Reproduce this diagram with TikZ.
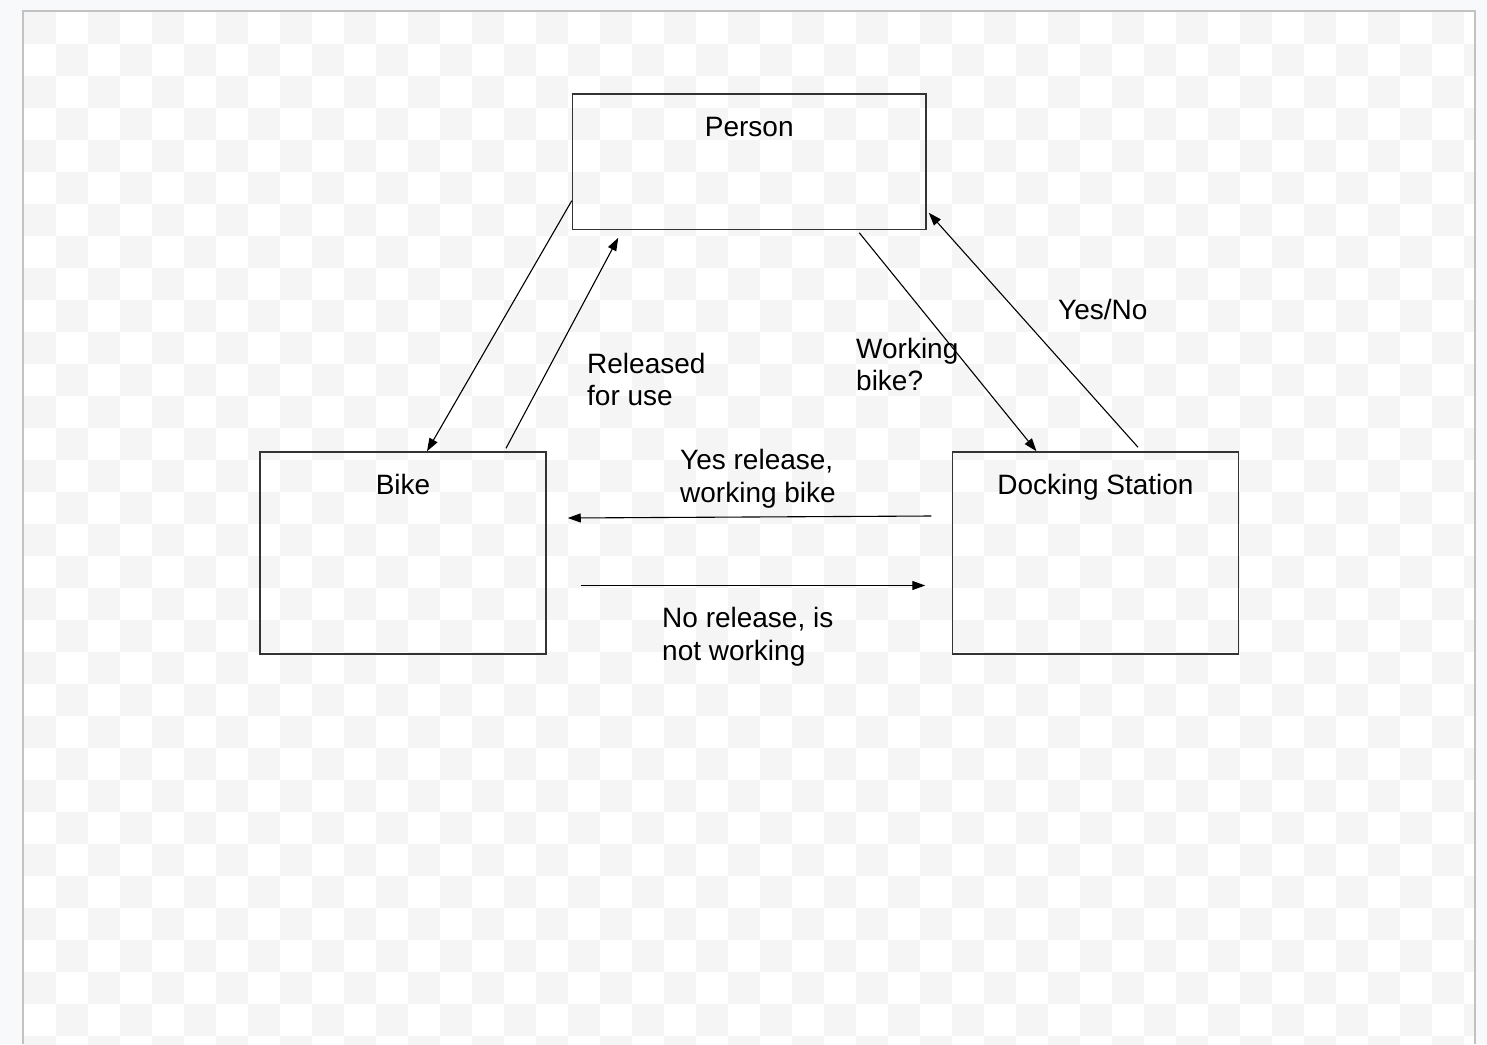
\documentclass[tikz,border=0pt]{standalone}
\usepackage{fontspec}
\setmainfont{Liberation Sans}
\usetikzlibrary{arrows.meta}

\definecolor{pagegray}{HTML}{F8F9FA}
\definecolor{checkgray}{HTML}{F5F5F5}
\definecolor{framegray}{HTML}{C2C2C2}
\definecolor{boxline}{HTML}{333333}

\tikzset{
    box/.style={draw=boxline, line width=1.5pt, inner sep=0pt, minimum width=286pt, minimum height=202pt},
    flow/.style={draw=black, line width=1.1pt, -{Triangle[length=13pt,width=9pt]}},
    title/.style={font=\fontsize{28}{32.5}\selectfont, inner sep=0pt, anchor=base},
    lbl/.style={font=\fontsize{28}{32.5}\selectfont, inner sep=0pt, align=left, anchor=base west}
}

\begin{document}
\begin{tikzpicture}[x=1pt,y=-1pt]
        \useasboundingbox (0,0) rectangle (1487,1044);

        % Page and checkered canvas
        \fill[pagegray] (0,0) rectangle (1487,1044);
        \fill[white] (24,12) rectangle (1474,1044);
        \begin{scope}
            \clip (24,12) rectangle (1474,1044);
            \foreach \i in {0,2,...,44} {
                \foreach \j in {0,2,...,32} {
                    \fill[checkgray] (24+32*\i,12+32*\j) rectangle ++(32,32);
                }
            }
            \foreach \i in {1,3,...,45} {
                \foreach \j in {1,3,...,31} {
                    \fill[checkgray] (24+32*\i,12+32*\j) rectangle ++(32,32);
                }
            }
        \end{scope}
        \draw[framegray, line width=2pt] (23,1044) -- (23,11) -- (1475,11) -- (1475,1044);

        % Draw the boxes
        \node[box, minimum width=353.5pt, minimum height=135.5pt] (person) at (749.25,161.75) {};
        \node[box] (bike) at (403,553) {};
        \node[box] (dock) at (1095.5,553) {};

        % Box titles
        \node[title] (person title) at ([yshift=-43pt]person.north) {Person};
        \node[title] (bike title) at ([yshift=-43pt]bike.north) {Bike};
        \node[title] (dock title) at ([yshift=-43pt]dock.north) {Docking Station};

        % Draw the arrows
        \draw[flow] ([yshift=-39pt]person.west) -- ([xshift=24pt]bike.north);
        \draw[flow] ([xshift=103pt,yshift=3pt]bike.north) -- ([xshift=-131pt,yshift=-7.5pt]person.south);
        \draw[flow] ([xshift=110pt,yshift=-2.5pt]person.south) -- ([xshift=-59pt]dock.north);
        \draw[flow] ([xshift=42.5pt,yshift=4pt]dock.north) -- ([xshift=2pt,yshift=17.5pt]person.south east);
        \draw[flow] ([xshift=-20.5pt,yshift=37pt]dock.west) -- ([xshift=21pt,yshift=35pt]bike.east);
        \draw[flow] ([xshift=34pt,yshift=-32.5pt]bike.east) -- ([xshift=-26.5pt,yshift=-32.5pt]dock.west);

        % Label each arrow (base is the last line)
        \node[lbl] (released) at (587,405.5) {Released\\for use};
        \node[lbl] (working) at (856,390.5) {Working\\bike?};
        \node[lbl] (yesno) at (1058,319) {Yes/No};
        \node[lbl] (yes release) at (680,502) {Yes release,\\working bike};
        \node[lbl] (no release) at (662,660) {No release, is\\not working};
    \end{tikzpicture}
\end{document}
